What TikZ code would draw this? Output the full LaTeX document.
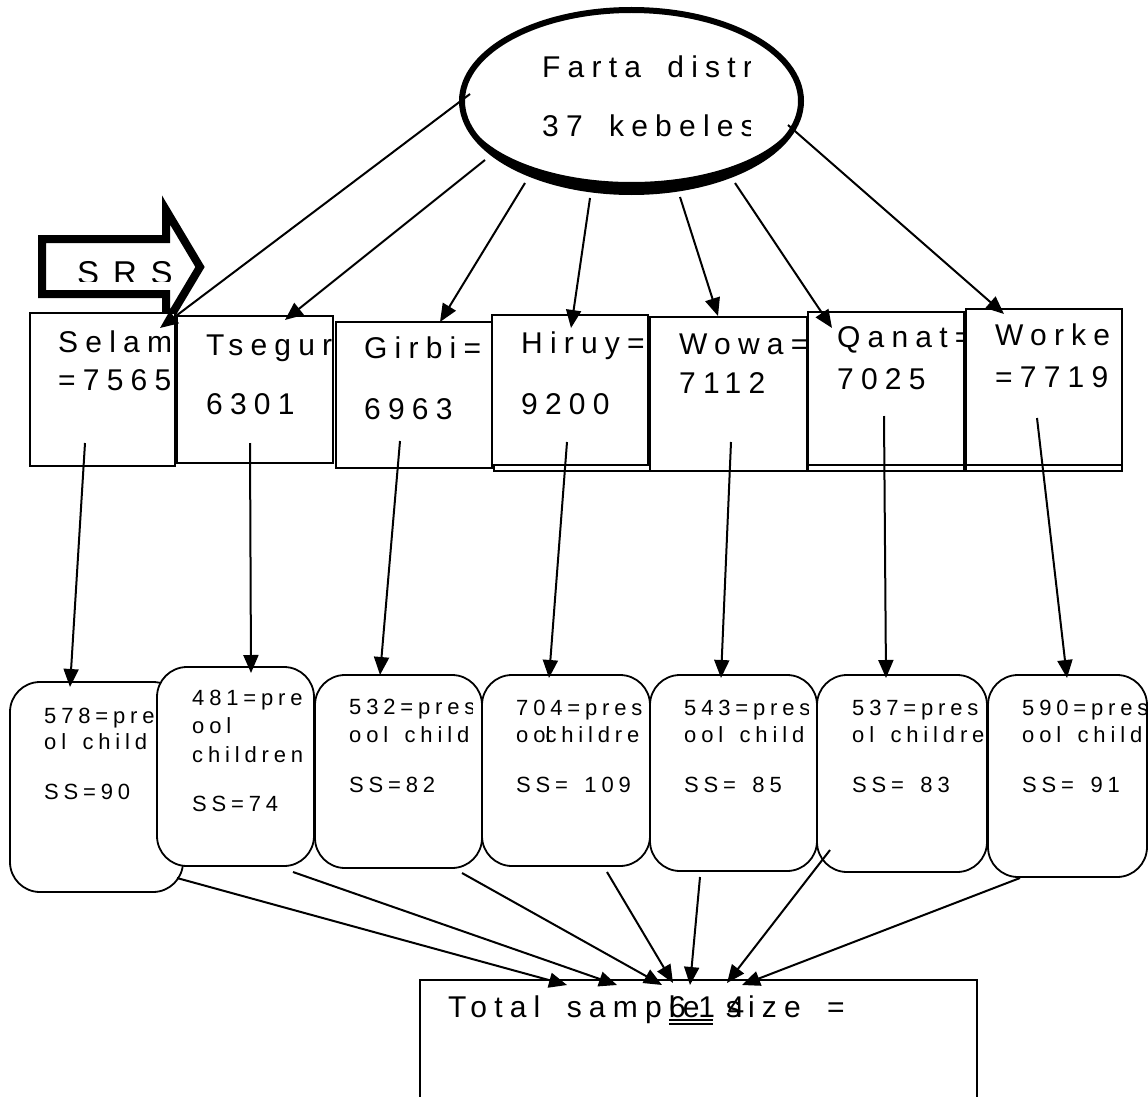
\documentclass[tikz,border=0pt]{standalone}
\usepackage{fontspec}
\setmainfont{Liberation Sans}
\newfontfamily\lsbig[LetterSpace=24,WordSpace=1.7]{Liberation Sans}
\newfontfamily\lssmall[LetterSpace=22,WordSpace=1.5]{Liberation Sans}
\newfontfamily\lswide[LetterSpace=42]{Liberation Sans}
\usetikzlibrary{arrows.meta,shapes.geometric}
\tikzset{
  bigtxt/.style={font={\lsbig\fontsize{30}{36}\selectfont}, inner sep=0pt, anchor=base west},
  smalltxt/.style={font={\lssmall\fontsize{22}{26}\selectfont}, inner sep=0pt, anchor=base west},
  widetxt/.style={font={\lswide\fontsize{33}{40}\selectfont}, inner sep=0pt, anchor=base west},
  numtxt/.style={font={\lswide\fontsize{30}{36}\selectfont}, inner sep=0pt, anchor=base west},
  rectbox/.style={draw, line width=1.8pt, fill=white, inner sep=0pt, outer sep=0pt},
  roundbox/.style={rectbox, rounded corners=30pt},
  link/.style={line width=2pt, -{Triangle[length=18pt,width=15pt]}},
}
\begin{document}
\begin{tikzpicture}[x=1pt,y=-1pt]
\useasboundingbox (0,0) rectangle (1148,1097);
\clip (0,0) rectangle (1148,1097);

% SRS block arrow
\draw[line width=8pt, fill=white, miter limit=10] (42,239) -- (166,239) -- (166,210) -- (200,267) -- (166,324) -- (166,294) -- (42,294) -- cycle;
\begin{scope}
  \clip (0,0) rectangle (1148,281);
  \node[widetxt] (srs) at (77,284) {SRS};
\end{scope}

% kebele boxes
\node[rectbox, minimum width=145pt, minimum height=153pt] (r1) at (102.5,389.5) {};
\begin{scope}\clip (30,313) rectangle (175,466);
  \node[bigtxt] (r1a) at (58,352) {Selam};
  \node[bigtxt] (r1b) at (58,390) {=7565};
\end{scope}
\node[rectbox, minimum width=156pt, minimum height=147pt] (r2) at (255,389.5) {};
\begin{scope}\clip (177,316) rectangle (332,463);
  \node[bigtxt] (r2a) at (206,355) {Tsegur};
  \node[bigtxt] (r2b) at (206,414) {6301};
\end{scope}
\node[rectbox, minimum width=156pt, minimum height=146pt] (r3) at (414,395) {};
\begin{scope}\clip (336,322) rectangle (491,468);
  \node[bigtxt] (r3a) at (364,358) {Girbi=};
  \node[bigtxt] (r3b) at (364,419) {6963};
\end{scope}
\node[rectbox, minimum width=156pt, minimum height=150pt] (r4s) at (572,396) {};
\node[rectbox, minimum width=156pt, minimum height=150pt] (r4) at (570,390) {};
\begin{scope}\clip (492,315) rectangle (647,465);
  \node[bigtxt] (r4a) at (521,353) {Hiruy=};
  \node[bigtxt] (r4b) at (521,414) {9200};
\end{scope}
\node[rectbox, minimum width=157pt, minimum height=154pt] (r5) at (728.5,394) {};
\begin{scope}\clip (650,317) rectangle (806,471);
  \node[bigtxt] (r5a) at (679,354) {Wowa=};
  \node[bigtxt] (r5b) at (679,393) {7112};
\end{scope}
\node[rectbox, minimum width=156pt, minimum height=153pt] (r6s) at (886,394.5) {};
\node[rectbox, minimum width=156pt, minimum height=153pt] (r6) at (886,388.5) {};
\begin{scope}\clip (808,312) rectangle (964,465);
  \node[bigtxt] (r6a) at (837,347) {Qanat=};
  \node[bigtxt] (r6b) at (837,389) {7025};
\end{scope}
\node[rectbox, minimum width=156pt, minimum height=156pt] (r7s) at (1044,393) {};
\node[rectbox, minimum width=156pt, minimum height=156pt] (r7) at (1044,387) {};
\begin{scope}\clip (966,309) rectangle (1121,465);
  \node[bigtxt] (r7a) at (995,345) {Worke};
  \node[bigtxt] (r7b) at (995,387) {=7719};
\end{scope}

% district ellipse
\node[draw, ellipse, line width=6pt, fill=white, minimum width=339pt, minimum height=182pt, inner sep=0pt] (dist) at (631.5,101) {};
\fill (462,101) arc[start angle=180, end angle=0, x radius=169.5, y radius=91] arc[start angle=0, end angle=180, x radius=169.5, y radius=81] -- cycle;
\begin{scope}\clip (460,0) rectangle (750,200);
  \node[bigtxt] (dist1) at (542,78) {Farta distr};
  \node[bigtxt] (dist2) at (542,137) {37 kebeles};
\end{scope}

% arrows district -> kebeles
\coordinate (a1s) at (470,94);  \coordinate (a1e) at (160,328);
\coordinate (a2s) at (485,160); \coordinate (a2e) at (285,320);
\coordinate (a3s) at (525,183); \coordinate (a3e) at (440,322);
\coordinate (a4s) at (590,198); \coordinate (a4e) at (571,328);
\coordinate (a5s) at (680,197); \coordinate (a5e) at (718,316);
\coordinate (a6s) at (735,183); \coordinate (a6e) at (832,328);
\coordinate (a7s) at (788,125); \coordinate (a7e) at (1004,314);
\foreach \i in {1,...,7} {\draw[link] (a\i s) -- (a\i e);}

% children boxes
\node[roundbox, minimum width=173pt, minimum height=210pt] (b1) at (96.5,787) {};
\begin{scope}\clip (10,682) rectangle (175,892);
  \node[smalltxt] (b1a) at (44,723) {578=pre};
  \node[smalltxt] (b1b) at (44,749) {ol child};
  \node[smalltxt] (b1c) at (44,799) {SS=90};
\end{scope}
\node[roundbox, minimum width=157pt, minimum height=199pt] (b2) at (235.5,766.5) {};
\begin{scope}\clip (157,667) rectangle (312,866);
  \node[smalltxt] (b2a) at (192,705) {481=pre};
  \node[smalltxt] (b2b) at (192,733) {ool};
  \node[smalltxt] (b2c) at (192,762) {children};
  \node[smalltxt] (b2d) at (192,811) {SS=74};
\end{scope}
\node[roundbox, minimum width=167pt, minimum height=193pt] (b3) at (398.5,771.5) {};
\begin{scope}\clip (315,675) rectangle (472,868);
  \node[smalltxt] (b3a) at (349,714) {532=pres};
  \node[smalltxt] (b3b) at (349,742) {ool child};
  \node[smalltxt] (b3c) at (349,792) {SS=82};
\end{scope}
\node[roundbox, minimum width=168pt, minimum height=191pt] (b4) at (566,770.5) {};
\begin{scope}\clip (482,675) rectangle (643,866);
  \node[smalltxt] (b4a) at (516,715) {704=pres};
  \node[smalltxt] (b4b) at (516,742) {oo\rlap{l}childre};
  \node[smalltxt] (b4c) at (516,792) {SS= 109};
\end{scope}
\node[roundbox, minimum width=167pt, minimum height=196pt] (b5) at (733.5,773) {};
\begin{scope}\clip (650,675) rectangle (808,871);
  \node[smalltxt] (b5a) at (684,715) {543=pres};
  \node[smalltxt] (b5b) at (684,742) {ool child};
  \node[smalltxt] (b5c) at (684,792) {SS= 85};
\end{scope}
\node[roundbox, minimum width=170pt, minimum height=197pt] (b6) at (902,773.5) {};
\begin{scope}\clip (817,675) rectangle (984,872);
  \node[smalltxt] (b6a) at (852,715) {537=pres};
  \node[smalltxt] (b6b) at (852,742) {ol childre};
  \node[smalltxt] (b6c) at (852,792) {SS= 83};
\end{scope}
\node[roundbox, minimum width=159pt, minimum height=202pt] (b7) at (1067.5,776) {};
\begin{scope}\clip (988,675) rectangle (1146,877);
  \node[smalltxt] (b7a) at (1022,715) {590=pres};
  \node[smalltxt] (b7b) at (1022,742) {ool child};
  \node[smalltxt] (b7c) at (1022,792) {SS= 91};
\end{scope}

% arrows kebeles -> children
\coordinate (b1s) at (85,443);   \coordinate (b1e) at (70,687);
\coordinate (b2s) at (250,443);  \coordinate (b2e) at (251,673);
\coordinate (b3s) at (400,441);  \coordinate (b3e) at (380,675);
\coordinate (b4s) at (567,442);  \coordinate (b4e) at (549,678);
\coordinate (b5s) at (731,442);  \coordinate (b5e) at (721,678);
\coordinate (b6s) at (884,416);  \coordinate (b6e) at (886,678);
\coordinate (b7s) at (1037,418); \coordinate (b7e) at (1067,678);
\foreach \i in {1,...,7} {\draw[link] (b\i s) -- (b\i e);}

% total box
\node[rectbox, minimum width=557pt, minimum height=135pt] (total) at (698.5,1047.5) {};
\node[bigtxt] (totaltxt) at (448,1017) {Total sample size =};
\node[numtxt] (num) at (669,1017) {614};
\draw[line width=1.2pt] (669,1020) -- (713,1020) (669,1024) -- (713,1024);

% arrows children -> total
\coordinate (c1s) at (177,878);  \coordinate (c1e) at (567,985);
\coordinate (c2s) at (293,872);  \coordinate (c2e) at (617,985);
\coordinate (c3s) at (462,873);  \coordinate (c3e) at (662,985);
\coordinate (c4s) at (607,872);  \coordinate (c4e) at (673,983);
\coordinate (c5s) at (700,877);  \coordinate (c5e) at (690,985);
\coordinate (c6s) at (830,850);  \coordinate (c6e) at (727,983);
\coordinate (c7s) at (1020,878); \coordinate (c7e) at (742,985);
\foreach \i in {1,...,7} {\draw[link] (c\i s) -- (c\i e);}
\end{tikzpicture}
\end{document}
